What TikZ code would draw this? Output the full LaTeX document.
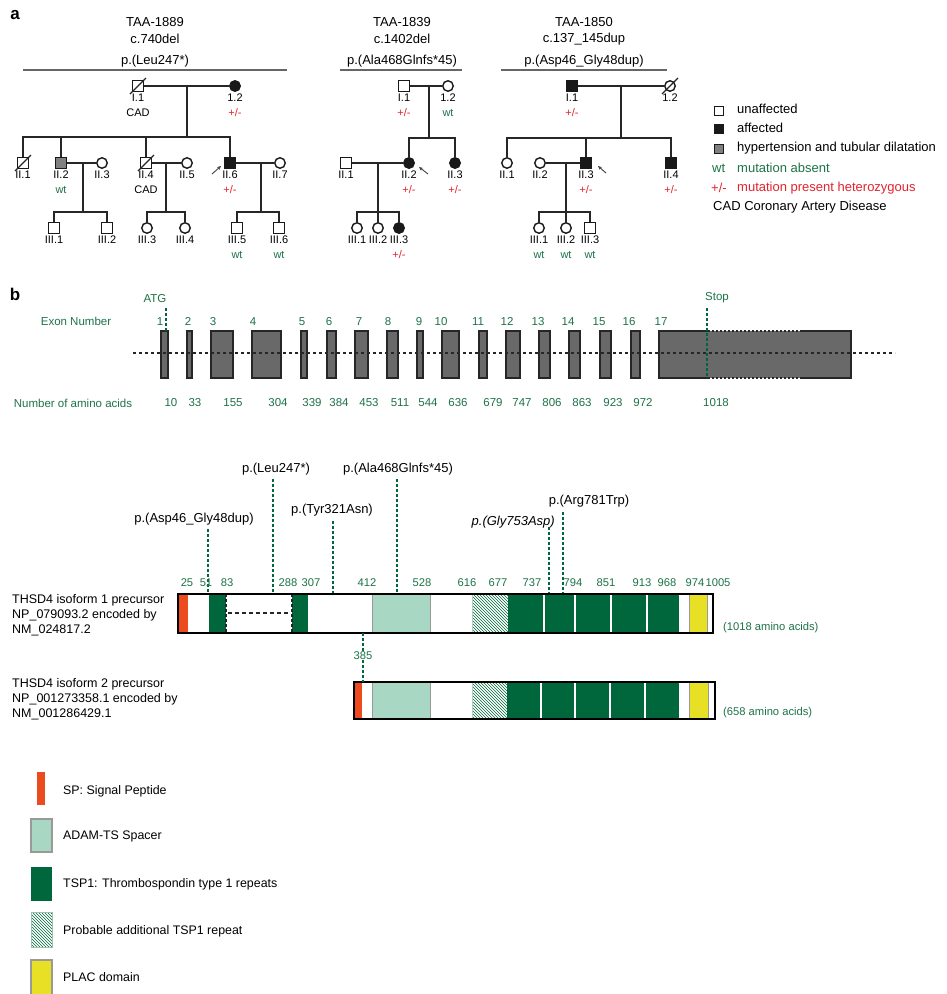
\documentclass[tikz,border=0pt]{standalone}
\usepackage{fontspec}
\setmainfont{Liberation Sans}
\usetikzlibrary{calc,patterns,arrows.meta}
\definecolor{gtxt}{RGB}{30,115,72}
\definecolor{rtxt}{RGB}{228,35,45}
\definecolor{dgreen}{RGB}{0,102,60}
\definecolor{lgreen}{RGB}{168,216,196}
\definecolor{spred}{RGB}{235,75,30}
\definecolor{plac}{RGB}{232,224,36}
\definecolor{exgray}{RGB}{105,105,105}
\definecolor{pgray}{RGB}{128,128,128}
\newcommand{\myfs}[1]{\fontsize{#1}{#1}\selectfont}
\newcommand{\wtx}{\textcolor{gtxt}{wt}}
\newcommand{\hetx}{\textcolor{rtxt}{+/-}}
\newcommand{\pp}[6]{%
  \node[#4] (#1) at (#2,#3) {};
  \node[plab] (#1a) at (#2,#3+12) {#5};
  \node[plab] (#1b) at (#2,#3+27) {#6};}
\newcommand{\decd}[1]{\draw[pline, line width=1.2pt] ($(#1)+(-8,8)$) -- ($(#1)+(8,-8)$);}
\tikzset{
  ind/.style={draw=black!90, line width=1.4pt, minimum size=10.5pt, inner sep=0pt, fill=white},
  male/.style={ind, rectangle},
  female/.style={ind, circle},
  aff/.style={fill=black!90},
  hyp/.style={fill=pgray},
  plab/.style={font=\myfs{11}, inner sep=0pt},
  pline/.style={line width=1.5pt, draw=black!85},
  parrow/.style={-{Stealth[length=4pt,width=3.5pt]}, line width=0.9pt, draw=black!75},
  ttl/.style={font=\myfs{13}, inner sep=0pt},
  hline/.style={line width=1.2pt, draw=black!60},
  lgtxt/.style={font=\myfs{13}, inner sep=0pt, anchor=west},
  gtx/.style={font=\myfs{11.5}, inner sep=0pt, text=gtxt},
  exon/.style={fill=exgray, draw=black!85, line width=1.2pt},
  exb/.style={draw=black!85, line width=1.2pt},
  intron/.style={draw=black!85, line width=1.2pt, dash pattern=on 3pt off 3pt},
  gmark/.style={draw=dgreen, line width=1.5pt, dash pattern=on 3pt off 2pt},
  mlab/.style={font=\myfs{13}, inner sep=0pt},
  nlab/.style={font=\myfs{11.2}, inner sep=0pt, text=gtxt},
  isolab/.style={font=\myfs{12.5}, inner sep=0pt, anchor=west},
  leglab/.style={font=\myfs{12.4}, inner sep=0pt, anchor=west},
  hatchfill/.style={pattern=north west lines, pattern color=dgreen},
  panel/.style={font=\bfseries\myfs{17}, inner sep=0pt},
}
\begin{document}
\begin{tikzpicture}[x=1pt,y=-1pt]
\useasboundingbox (0,0) rectangle (946,994);
\fill[white] (0,0) rectangle (946,994);

% ---------------- panel a ----------------
\node[panel] (pa) at (15,15) {a};

% Pedigree 1
\node[ttl] (t1a) at (155,22) {TAA-1889};
\node[ttl] (t1b) at (155,39) {c.740del};
\node[ttl] (t1c) at (155,61) {p.(Leu247*)};
\coordinate (h1l) at (23,70); \coordinate (h1r) at (287,70);
\draw[hline] (h1l) -- (h1r);

\pp{aI1}{138}{86}{male}{I.1}{CAD}
\pp{aI2}{235}{86}{female,aff}{1.2}{\hetx}
\pp{aII1}{23}{163}{male}{II.1}{}
\pp{aII2}{61}{163}{male,hyp}{II.2}{\wtx}
\pp{aII3}{102}{163}{female}{II.3}{}
\pp{aII4}{146}{163}{male}{II.4}{CAD}
\pp{aII5}{187}{163}{female}{II.5}{}
\pp{aII6}{230}{163}{male,aff}{II.6}{\hetx}
\pp{aII7}{280}{163}{female}{II.7}{}
\pp{aIII1}{54}{228}{male}{III.1}{}
\pp{aIII2}{107}{228}{male}{III.2}{}
\pp{aIII3}{147}{228}{female}{III.3}{}
\pp{aIII4}{185}{228}{female}{III.4}{}
\pp{aIII5}{237}{228}{male}{III.5}{\wtx}
\pp{aIII6}{279}{228}{male}{III.6}{\wtx}
\decd{aI1} \decd{aII1} \decd{aII4}

\draw[pline] (aI1) -- (aI2);
\coordinate (aM1) at (187,86); \coordinate (aS1) at (187,137);
\draw[pline] (aM1) -- (aS1);
\draw[pline] (aII1) -- (aII1 |- aS1) -- (aII6 |- aS1) -- (aII6);
\draw[pline] (aII2 |- aS1) -- (aII2);
\draw[pline] (aII4 |- aS1) -- (aII4);
\draw[pline] (aII2) -- (aII3);
\coordinate (aM2) at (83,163); \coordinate (aS2) at (83,212);
\draw[pline] (aM2) -- (aS2);
\draw[pline] (aIII1) -- (aIII1 |- aS2) -- (aIII2 |- aS2) -- (aIII2);
\draw[pline] (aII4) -- (aII5);
\coordinate (aM3) at (166,163); \coordinate (aS3) at (166,212);
\draw[pline] (aM3) -- (aS3);
\draw[pline] (aIII3) -- (aIII3 |- aS3) -- (aIII4 |- aS3) -- (aIII4);
\draw[pline] (aII6) -- (aII7);
\coordinate (aM4) at (261,163); \coordinate (aS4) at (261,212);
\draw[pline] (aM4) -- (aS4);
\draw[pline] (aIII5) -- (aIII5 |- aS4) -- (aIII6 |- aS4) -- (aIII6);
\coordinate (aP1) at (212,174); \coordinate (aP2) at (221,166);
\draw[parrow] (aP1) -- (aP2);

% Pedigree 2
\node[ttl] (t2a) at (402,22) {TAA-1839};
\node[ttl] (t2b) at (402,39) {c.1402del};
\node[ttl] (t2c) at (402,61) {p.(Ala468Glnfs*45)};
\coordinate (h2l) at (340,70); \coordinate (h2r) at (462,70);
\draw[hline] (h2l) -- (h2r);

\pp{bI1}{404}{86}{male}{I.1}{\hetx}
\pp{bI2}{448}{86}{female}{1.2}{\wtx}
\pp{bII1}{346}{163}{male}{II.1}{}
\pp{bII2}{409}{163}{female,aff}{II.2}{\hetx}
\pp{bII3}{455}{163}{female,aff}{II.3}{\hetx}
\pp{bIII1}{357}{228}{female}{III.1}{}
\pp{bIII2}{378}{228}{female}{III.2}{}
\pp{bIII3}{399}{228}{female,aff}{III.3}{\hetx}

\draw[pline] (bI1) -- (bI2);
\coordinate (bM1) at (429,86); \coordinate (bS1) at (429,138);
\draw[pline] (bM1) -- (bS1);
\draw[pline] (bII2) -- (bII2 |- bS1) -- (bII3 |- bS1) -- (bII3);
\draw[pline] (bII1) -- (bII2);
\coordinate (bM2) at (378,163); \coordinate (bS2) at (378,212);
\draw[pline] (bM2) -- (bS2);
\draw[pline] (bIII1) -- (bIII1 |- bS2) -- (bIII3 |- bS2) -- (bIII3);
\draw[pline] (bIII2 |- bS2) -- (bIII2);
\coordinate (bP1) at (428,174); \coordinate (bP2) at (419,167);
\draw[parrow] (bP1) -- (bP2);

% Pedigree 3
\node[ttl] (t3a) at (584,22) {TAA-1850};
\node[ttl] (t3b) at (584,39) {c.137\_145dup};
\node[ttl] (t3c) at (584,61) {p.(Asp46\_Gly48dup)};
\coordinate (h3l) at (501,70); \coordinate (h3r) at (667,70);
\draw[hline] (h3l) -- (h3r);

\pp{cI1}{572}{86}{male,aff}{I.1}{\hetx}
\pp{cI2}{670}{86}{female}{1.2}{}
\pp{cII1}{507}{163}{female}{II.1}{}
\pp{cII2}{540}{163}{female}{II.2}{}
\pp{cII3}{586}{163}{male,aff}{II.3}{\hetx}
\pp{cII4}{671}{163}{male,aff}{II.4}{\hetx}
\pp{cIII1}{539}{228}{female}{III.1}{\wtx}
\pp{cIII2}{566}{228}{female}{III.2}{\wtx}
\pp{cIII3}{590}{228}{male}{III.3}{\wtx}
\decd{cI2}

\draw[pline] (cI1) -- (cI2);
\coordinate (cM1) at (621,86); \coordinate (cS1) at (621,138);
\draw[pline] (cM1) -- (cS1);
\draw[pline] (cII1) -- (cII1 |- cS1) -- (cII4 |- cS1) -- (cII4);
\draw[pline] (cII3 |- cS1) -- (cII3);
\draw[pline] (cII2) -- (cII3);
\coordinate (cM2) at (566,163); \coordinate (cS2) at (566,212);
\draw[pline] (cM2) -- (cS2);
\draw[pline] (cIII1) -- (cIII1 |- cS2) -- (cIII3 |- cS2) -- (cIII3);
\draw[pline] (cIII2 |- cS2) -- (cIII2);
\coordinate (cP1) at (606,173); \coordinate (cP2) at (598,166);
\draw[parrow] (cP1) -- (cP2);

% Legend top
\node[male, minimum size=9pt, line width=1.2pt] (lgA) at (719,111) {};
\node[lgtxt] (lgAt) at (737,109) {unaffected};
\node[male, aff, minimum size=9pt, line width=1.2pt] (lgB) at (719,129) {};
\node[lgtxt] (lgBt) at (737,128) {affected};
\node[male, hyp, minimum size=9pt, line width=1.2pt] (lgC) at (719,149) {};
\node[lgtxt] (lgCt) at (737,148) {hypertension and tubular dilatation};
\node[lgtxt, text=gtxt] (lgD) at (712,168) {wt};
\node[lgtxt, text=gtxt] (lgDt) at (737,168) {mutation absent};
\node[lgtxt, text=rtxt] (lgE) at (711,188) {+/-};
\node[lgtxt, text=rtxt] (lgEt) at (737,188) {mutation present heterozygous};
\node[lgtxt] (lgF) at (713,207) {CAD Coronary Artery Disease};

% ---------------- panel b: exons ----------------
\node[panel] (pb) at (15,294) {b};
\node[gtx] (atg) at (155,299) {ATG};
\node[gtx] (stp) at (717,298) {Stop};
\node[gtx] (exn) at (76,321) {Exon Number};
\foreach \n/\a/\b/\l in {1/161/168/160, 2/187/192/188, 3/211/233/213, 4/252/281/253, 5/301/307/302, 6/327/336/329, 7/355/368/359, 8/387/398/388, 9/417/423/419, 10/442/459/441, 11/479/487/478, 12/506/520/507, 13/539/550/538, 14/569/580/568, 15/600/611/599, 16/631/640/629}{
  \draw[exon] (\a,331) rectangle (\b,378);
  \node[gtx, text height=8.2pt, text depth=0pt] (exl\n) at (\l,321) {\n};
}
\fill[exgray] (659,331) rectangle (851,378);
\draw[exb] (708,331) -- (659,331) -- (659,378) -- (708,378);
\draw[exb] (802,331) -- (851,331) -- (851,378) -- (802,378);
\draw[exb, dash pattern=on 2pt off 2pt] (708,331) -- (802,331);
\draw[exb, dash pattern=on 2pt off 2pt] (708,378) -- (802,378);
\node[gtx, text height=8.2pt, text depth=0pt] (exl17) at (661,321) {17};
\coordinate (inL) at (133,353); \coordinate (inR) at (895,353);
\draw[intron] (inL) -- (inR);
\coordinate (atgA) at (166,308); \coordinate (atgB) at (166,331);
\draw[gmark, line width=1.3pt] (atgA) -- (atgB);
\coordinate (stA) at (707,308); \coordinate (stB) at (707,378);
\draw[gmark, line width=1.3pt] (stA) -- (stB);

\node[gtx] (naa) at (73,403) {Number of amino acids};
\foreach \v/\x in {10/171,33/195,155/233,304/278,339/312,384/339,453/369,511/400,544/428,636/458,679/493,747/522,806/552,863/582,923/613,972/643,1018/716}{
  \node[gtx] (aa\v) at (\x,403) {\v};
}

% ---------------- protein ----------------
\node[mlab] (mLeu) at (276,469) {p.(Leu247*)};
\node[mlab] (mAla) at (398,469) {p.(Ala468Glnfs*45)};
\node[mlab] (mTyr) at (332,510) {p.(Tyr321Asn)};
\node[mlab] (mAsp) at (194,519) {p.(Asp46\_Gly48dup)};
\node[mlab, anchor=east, font=\itshape\myfs{13}] (mGly) at (555,522) {p.(Gly753Asp)};
\node[mlab] (mArg) at (589,501) {p.(Arg781Trp)};
\coordinate (dAsp1) at (208,529); \coordinate (dAsp2) at (208,594);
\coordinate (dLeu1) at (273,479); \coordinate (dLeu2) at (273,594);
\coordinate (dTyr1) at (333,521); \coordinate (dTyr2) at (333,594);
\coordinate (dAla1) at (397,479); \coordinate (dAla2) at (397,594);
\coordinate (dGly1) at (549,527); \coordinate (dGly2) at (549,594);
\coordinate (dArg1) at (563,512); \coordinate (dArg2) at (563,594);
\foreach \m in {Asp,Leu,Tyr,Ala,Gly,Arg}{\draw[gmark] (d\m1) -- (d\m2);}

\foreach \v/\x in {25/187,51/206,83/227,288/288,307/311,412/367,528/422,616/467,677/498,737/532,794/573,851/606,913/642,968/667,974/695,1005/718}{
  \node[nlab] (pn\v) at (\x,583) {\v};
}

% bar 1 contents
\fill[spred] (178,594) rectangle (188,633);
\fill[dgreen] (209,594) rectangle (226,633);
\fill[dgreen] (292,594) rectangle (308,633);
\draw[black!85, line width=1.2pt, dash pattern=on 3pt off 2pt] (226,594) -- (226,633);
\draw[black!85, line width=1.2pt, dash pattern=on 3pt off 2pt] (292,594) -- (292,633);
\draw[black!85, line width=1.3pt, dash pattern=on 4pt off 3pt] (228,613) -- (290,613);
\filldraw[fill=lgreen, draw=black!40, line width=0.8pt] (372,594) rectangle (430,633);
\fill[hatchfill] (472,594) rectangle (508,633);
\draw[dgreen!30, line width=0.6pt] (472,594) rectangle (508,633);
\foreach \a/\b in {508/543,545/574,576/610,612/646,648/679}{\fill[dgreen] (\a,594) rectangle (\b,633);}
\filldraw[fill=plac, draw=black!40, line width=0.8pt] (689,594) rectangle (707,633);
\node[draw=black, line width=2.4pt, minimum width=535pt, minimum height=39pt, inner sep=0pt] (bar1) at (445.5,613.5) {};
\node[nlab, anchor=west] (len1) at (723,628) {(1018 amino acids)};

\node[isolab] (iso1a) at (12,600) {THSD4 isoform 1 precursor};
\node[isolab] (iso1b) at (12,615) {NP\_079093.2 encoded by};
\node[isolab] (iso1c) at (12,630) {NM\_024817.2};

% bar 2 contents
\fill[spred] (354,682) rectangle (362,719);
\filldraw[fill=lgreen, draw=black!40, line width=0.8pt] (372,682) rectangle (430,719);
\fill[hatchfill] (472,682) rectangle (507,719);
\draw[dgreen!30, line width=0.6pt] (472,682) rectangle (507,719);
\foreach \a/\b in {507/540,542/574,576/609,611/644,646/679}{\fill[dgreen] (\a,682) rectangle (\b,719);}
\filldraw[fill=plac, draw=black!40, line width=0.8pt] (689,682) rectangle (708,719);
\node[draw=black, line width=2.4pt, minimum width=361pt, minimum height=37pt, inner sep=0pt] (bar2) at (534.5,700.5) {};
\node[nlab, anchor=west] (len2) at (723,713) {(658 amino acids)};

\node[isolab] (iso2a) at (12,684) {THSD4 isoform 2 precursor};
\node[isolab] (iso2b) at (12,699) {NP\_001273358.1 encoded by};
\node[isolab] (iso2c) at (12,714) {NM\_001286429.1};

% 385 link
\node[nlab] (n385) at (363,656) {385};
\coordinate (k1) at (363,633); \coordinate (k2) at (363,682);
\draw[gmark] (k1) -- (n385);
\draw[gmark] (n385) -- (k2);

% ---------------- legend bottom ----------------
\fill[spred] (37,772) rectangle (45,805);
\node[leglab] (lgSP) at (63,791) {SP: Signal Peptide};
\filldraw[fill=lgreen, draw=black!40, line width=1.2pt] (31,819) rectangle (52,852);
\node[leglab] (lgAD) at (63,836) {ADAM-TS Spacer};
\fill[dgreen] (31,867) rectangle (52,901);
\node[leglab] (lgTS) at (63,884) {TSP1: Thrombospondin type 1 repeats};
\fill[hatchfill] (31,912) rectangle (52,947);
\draw[dgreen!40, line width=0.8pt] (31,912) rectangle (52,947);
\node[leglab] (lgPR) at (63,931) {Probable additional TSP1 repeat};
\filldraw[fill=plac, draw=black!40, line width=1.2pt] (31,960) rectangle (52,1000);
\node[leglab] (lgPL) at (63,977) {PLAC domain};
\end{tikzpicture}
\end{document}
